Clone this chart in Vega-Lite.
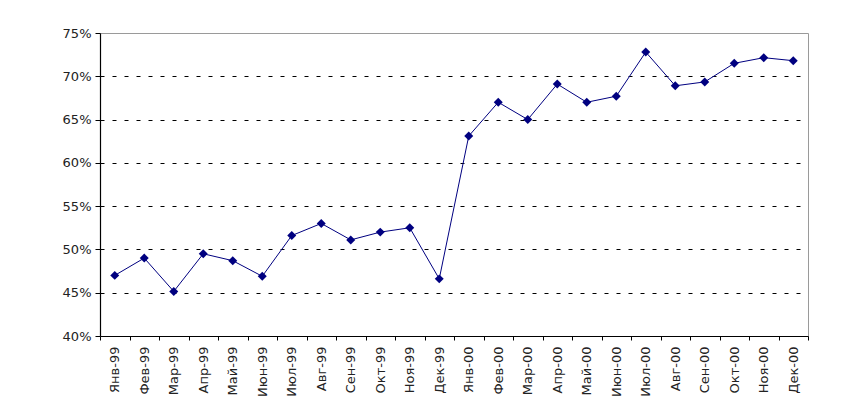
{
  "$schema": "https://vega.github.io/schema/vega-lite/v6.json",
  "autosize": {"type": "none"},
  "padding": {"left": 100, "top": 33, "right": 60, "bottom": 76},
  "width": 708,
  "height": 303,
  "background": "white",
  "config": {
    "view": {"stroke": "#9a9a9a", "strokeWidth": 1},
    "font": "DejaVu Sans"
  },
  "data": {
    "values": [
      {"month": "Янв-99", "share": 0.470},
      {"month": "Фев-99", "share": 0.490},
      {"month": "Мар-99", "share": 0.4515},
      {"month": "Апр-99", "share": 0.495},
      {"month": "Май-99", "share": 0.487},
      {"month": "Июн-99", "share": 0.469},
      {"month": "Июл-99", "share": 0.516},
      {"month": "Авг-99", "share": 0.530},
      {"month": "Сен-99", "share": 0.511},
      {"month": "Окт-99", "share": 0.520},
      {"month": "Ноя-99", "share": 0.525},
      {"month": "Дек-99", "share": 0.466},
      {"month": "Янв-00", "share": 0.631},
      {"month": "Фев-00", "share": 0.670},
      {"month": "Мар-00", "share": 0.650},
      {"month": "Апр-00", "share": 0.691},
      {"month": "Май-00", "share": 0.670},
      {"month": "Июн-00", "share": 0.677},
      {"month": "Июл-00", "share": 0.728},
      {"month": "Авг-00", "share": 0.689},
      {"month": "Сен-00", "share": 0.6935},
      {"month": "Окт-00", "share": 0.715},
      {"month": "Ноя-00", "share": 0.7215},
      {"month": "Дек-00", "share": 0.718}
    ]
  },
  "encoding": {
    "x": {
      "field": "month",
      "type": "ordinal",
      "sort": null,
      "bandPosition": 0.5,
      "scale": {"type": "band", "paddingInner": 0, "paddingOuter": 0},
      "axis": {
        "title": null,
        "tickBand": "extent",
        "labelAngle": -90,
        "labelAlign": "right",
        "labelBaseline": "middle",
        "labelFontSize": 13,
        "labelColor": "#222",
        "labelPadding": 6,
        "tickSize": 4,
        "tickColor": "black",
        "domainColor": "black",
        "domainWidth": 1.2,
        "grid": false
      }
    },
    "y": {
      "field": "share",
      "type": "quantitative",
      "scale": {"domain": [0.40, 0.75], "nice": false, "zero": false},
      "axis": {
        "title": null,
        "values": [0.40, 0.45, 0.50, 0.55, 0.60, 0.65, 0.70, 0.75],
        "format": ".0%",
        "labelFontSize": 13,
        "labelColor": "#222",
        "labelPadding": 4,
        "tickSize": 5,
        "tickColor": "black",
        "domainColor": "black",
        "domainWidth": 1.2,
        "grid": true,
        "gridColor": {
          "condition": {"test": "datum.value >= 0.749 || datum.value <= 0.401", "value": "transparent"},
          "value": "black"
        },
        "gridDash": [4, 8],
        "gridWidth": 1
      }
    }
  },
  "layer": [
    {
      "mark": {"type": "line", "color": "#000080", "strokeWidth": 1}
    },
    {
      "mark": {"type": "point", "shape": "diamond", "size": 80, "filled": true, "color": "#000080", "opacity": 1}
    }
  ]
}
